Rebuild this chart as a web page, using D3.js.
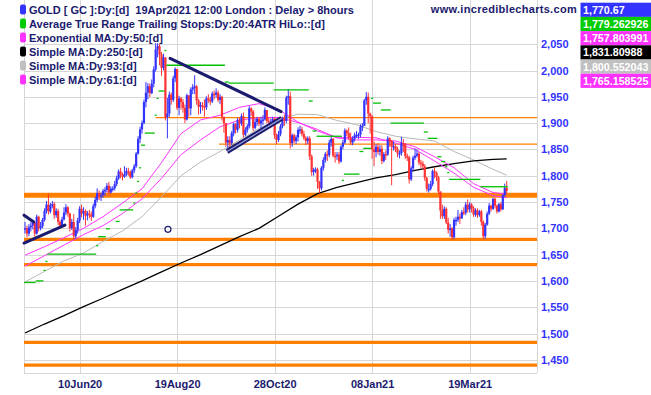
<!DOCTYPE html>
<html>
<head>
<meta charset="utf-8">
<script src="https://cdn.jsdelivr.net/npm/d3@7"></script>
<style>
  body { margin: 0; background: #fff; }
  svg { display: block; }
  text { font-family: "Liberation Sans", Arial, sans-serif; font-weight: bold; }
</style>
</head>
<body>
<script>
// daily bars, 29Apr20 .. 19Apr21 (index = trading day)
const closes = [
  1700,1690,1702,1705,1710,1690,1722,1700,1704,1716,
  1733,1745,1732,1744,1746,1725,1733,1712,1705,1717,
  1730,1740,1728,1700,1712,1685,1697,1715,1737,1728,
  1733,1724,1728,1726,1722,1742,1754,1767,1761,1763,
  1771,1773,1781,1768,1775,1776,1784,1795,1808,1803,
  1798,1802,1809,1807,1797,1810,1818,1842,1870,1888,
  1900,1940,1958,1970,1957,1975,2002,2040,2046,2030,
  2005,2025,1911,1918,1954,1944,1985,2003,1929,1947,
  1940,1929,1907,1953,1928,1964,1968,1970,1943,1931,
  1934,1932,1930,1947,1945,1941,1956,1954,1958,1944,
  1950,1912,1900,1863,1868,1862,1881,1898,1887,1906,
  1899,1913,1878,1887,1894,1928,1922,1891,1902,1908,
  1899,1905,1907,1925,1904,1902,1902,1908,1877,1868,
  1879,1894,1909,1904,1948,1951,1862,1877,1866,1873,
  1887,1888,1879,1872,1866,1871,1837,1807,1811,1812,
  1788,1776,1815,1830,1841,1839,1863,1870,1838,1837,
  1840,1827,1855,1863,1886,1881,1872,1863,1870,1877,
  1878,1878,1893,1895,1943,1950,1918,1913,1850,1845,
  1855,1845,1851,1828,1841,1840,1871,1866,1855,1856,
  1850,1843,1843,1862,1860,1837,1835,1793,1814,1834,
  1838,1842,1825,1823,1818,1796,1775,1775,1784,1809,
  1806,1797,1770,1734,1723,1737,1711,1697,1700,1683,
  1716,1716,1722,1719,1731,1730,1745,1736,1745,1738,
  1726,1734,1725,1732,1712,1685,1707,1728,1743,1737,
  1756,1743,1732,1746,1736,1763,1777,1771
];
const highs = [
  1712,1705,1708,1712,1716,1712,1726,1724,1712,1720,
  1738,1752,1766,1748,1752,1750,1738,1737,1715,1722,
  1740,1746,1742,1730,1718,1727,1702,1720,1742,1745,
  1740,1736,1733,1735,1732,1747,1760,1776,1772,1768,
  1775,1778,1786,1788,1780,1780,1790,1800,1812,1815,
  1806,1818,1815,1815,1810,1813,1822,1845,1875,1893,
  1905,1945,1978,1976,1975,1983,2008,2052,2052,2050,
  2035,2032,2025,1948,1960,1958,1990,2006,2000,1952,
  1950,1946,1935,1956,1952,1968,1974,1991,1972,1946,
  1940,1940,1945,1951,1955,1950,1960,1962,1966,1962,
  1955,1952,1912,1900,1875,1875,1885,1901,1900,1910,
  1910,1918,1920,1892,1898,1932,1930,1925,1908,1912,
  1910,1912,1915,1930,1920,1910,1908,1912,1910,1880,
  1885,1898,1912,1916,1952,1965,1960,1880,1880,1877,
  1892,1895,1893,1885,1875,1875,1875,1840,1815,1816,
  1815,1790,1818,1835,1845,1848,1868,1875,1872,1845,
  1845,1845,1858,1868,1890,1888,1892,1882,1875,1882,
  1885,1882,1898,1900,1946,1959,1958,1920,1915,1865,
  1860,1862,1858,1858,1845,1848,1875,1873,1868,1865,
  1860,1855,1848,1874,1870,1862,1842,1838,1818,1838,
  1852,1850,1845,1830,1828,1822,1798,1785,1790,1812,
  1815,1808,1800,1770,1745,1742,1740,1720,1708,1702,
  1720,1722,1735,1728,1735,1740,1750,1755,1750,1748,
  1742,1738,1738,1735,1735,1715,1710,1732,1748,1745,
  1758,1758,1745,1748,1750,1765,1785,1790
];
const lows = [
  1690,1683,1685,1694,1698,1684,1688,1694,1696,1700,
  1713,1728,1726,1728,1738,1718,1720,1706,1700,1702,
  1715,1725,1722,1694,1697,1677,1680,1690,1710,1721,
  1716,1705,1715,1719,1714,1720,1738,1750,1754,1752,
  1758,1762,1768,1762,1766,1770,1772,1780,1792,1795,
  1791,1796,1799,1800,1794,1795,1805,1815,1840,1862,
  1880,1898,1930,1945,1949,1955,1968,1998,2025,2010,
  1990,2000,1905,1871,1912,1935,1940,1978,1925,1915,
  1926,1920,1900,1905,1912,1915,1955,1955,1935,1916,
  1918,1924,1912,1925,1938,1934,1938,1945,1948,1940,
  1936,1905,1882,1855,1852,1855,1858,1875,1880,1882,
  1890,1895,1873,1875,1882,1890,1914,1885,1888,1895,
  1894,1890,1896,1905,1900,1895,1892,1895,1870,1860,
  1864,1875,1890,1895,1900,1935,1852,1855,1862,1860,
  1865,1880,1875,1868,1858,1860,1830,1800,1800,1805,
  1775,1767,1772,1810,1825,1828,1835,1855,1835,1825,
  1830,1822,1825,1850,1860,1875,1868,1858,1858,1865,
  1872,1870,1873,1885,1895,1935,1900,1880,1832,1818,
  1835,1840,1838,1822,1825,1830,1838,1855,1782,1848,
  1845,1835,1833,1838,1845,1832,1828,1785,1790,1810,
  1830,1835,1820,1815,1812,1790,1770,1768,1772,1780,
  1795,1790,1765,1718,1718,1718,1708,1690,1684,1678,
  1680,1705,1712,1708,1718,1725,1725,1730,1730,1730,
  1722,1722,1720,1722,1705,1679,1680,1705,1725,1732,
  1735,1738,1728,1730,1732,1735,1760,1765
];

const tickIdx = [28, 78, 128, 178, 228];
const tickLabels = ["10Jun20", "19Aug20", "28Oct20", "08Jan21", "19Mar21"];
const yTicks = [1450, 1500, 1550, 1600, 1650, 1700, 1750, 1800, 1850, 1900, 1950, 2000, 2050];

// moving averages at these bar indices
const maIdx  = [0, 10, 20, 30, 40, 50, 60, 70, 80, 90, 100, 110, 120, 130, 140, 150, 160, 170, 180, 190, 200, 210, 220, 230, 240, 247];
const sma250 = [1501,1518,1534,1551,1567,1584,1600,1617,1634,1650,1667,1684,1700,1723,1746,1766,1778,1787,1796,1802,1810,1817,1823,1828,1831,1832];
const sma93  = [1598,1618,1638,1653,1675,1695,1722,1760,1800,1826,1846,1868,1890,1907,1917,1916,1905,1897,1884,1875,1870,1866,1846,1830,1812,1801];
const ema50  = [1649,1665,1682,1700,1722,1748,1775,1825,1880,1906,1915,1930,1937,1926,1902,1885,1872,1873,1872,1862,1850,1828,1805,1778,1762,1758];
const sma61  = [1628,1648,1668,1688,1705,1728,1756,1795,1840,1868,1893,1906,1910,1911,1901,1888,1872,1868,1868,1866,1855,1836,1815,1785,1768,1765];

// ATR trailing stop steps: from bar, to bar, level
const atrFrom = [0,6,10,11,12,37,38,42,47,49,56,57,58,59,60,62,67,68,69,72,73,103,105,128,146,148,150,163,164,172,174,178,179,183,188,205,207,212,214,216,217,218,234];
const atrTo   = [5,9,10,11,36,37,41,43,48,55,56,57,58,59,61,66,67,68,71,72,102,104,127,145,147,149,162,163,171,173,177,178,182,187,204,206,211,213,215,216,217,233,247];
const atrVal  = [1597,1600,1620,1637,1651,1667,1684,1699,1713,1735,1748,1767,1789,1815,1858,1881,1915,1947,1961,2038,2010,1978,1976,1963,1942,1885,1875,1791,1803,1846,1852,1947,1938,1925,1900,1883,1871,1836,1827,1817,1806,1793,1779];

// horizontal support / resistance levels
const thickLevels = [1763, 1679, 1631, 1483, 1440];
const thinLevels = [1910.5, 1860];
const thinFrom = [67, 99.5];

// drawn trend lines: [bar0, price0, bar1, price1]
const trendLines = [[74.4, 2023, 131.3, 1922], [-0.5, 1672, 20.5, 1706], [-0.5, 1725, 4.5, 1712]];
const channelLine = [103.6, 1846, 131.6, 1909];
const marker = [73.3, 1698];

const legendNames = ["GOLD [ GC ]:Dy:[d]  19Apr2021 12:00 London : Delay > 8hours",
  "Average True Range Trailing Stops:Dy:20:4ATR HiLo::[d]", "Exponential MA:Dy:50:[d]",
  "Simple MA:Dy:250:[d]", "Simple MA:Dy:93:[d]", "Simple MA:Dy:61:[d]"];
const legendValues = ["1,770.67", "1,779.262926", "1,757.803991", "1,831.80988", "1,800.552043", "1,765.158525"];
const legendColors = ["#3333ff", "#00cc00", "#ff33ff", "#000000", "#c0c0c0", "#ff33ff"];

const W = 651, H = 395;
const left = 24, right = 537, bottom = 373;
const navy = "#1a1a6e";

const svg = d3.select("body").append("svg").attr("width", W).attr("height", H);

const x = d3.scaleLinear().domain([0, 247]).range([25, 506.7]);
const y = d3.scaleLinear().domain([1450, 2050]).range([359.8, 44.2]);

// grid
const grid = svg.append("g").attr("stroke", "#d6d6d6").attr("stroke-width", 1);
grid.selectAll(".hg").data(yTicks).enter().append("line")
  .attr("x1", left).attr("x2", right)
  .attr("y1", d => Math.round(y(d)) + 0.5).attr("y2", d => Math.round(y(d)) + 0.5);
grid.selectAll(".vg").data(tickIdx).enter().append("line")
  .attr("x1", d => Math.round(x(d)) + 0.5).attr("x2", d => Math.round(x(d)) + 0.5)
  .attr("y1", 0).attr("y2", bottom);
grid.append("line").attr("x1", left + 0.5).attr("x2", left + 0.5).attr("y1", 0).attr("y2", bottom);
grid.append("line").attr("x1", right + 0.5).attr("x2", right + 0.5).attr("y1", 0).attr("y2", bottom);
grid.append("line").attr("x1", left).attr("x2", right).attr("y1", bottom + 0.5).attr("y2", bottom + 0.5);

// orange levels
svg.selectAll(".lvl").data(thickLevels).enter().append("line")
  .attr("x1", left).attr("x2", right)
  .attr("y1", d => y(d)).attr("y2", d => y(d))
  .attr("stroke", "#ff8000").attr("stroke-width", (d, i) => i === 0 ? 5 : 3.2);
svg.selectAll(".tlvl").data(thinLevels).enter().append("line")
  .attr("x1", (d, i) => x(thinFrom[i])).attr("x2", right)
  .attr("y1", d => y(d)).attr("y2", d => y(d))
  .attr("stroke", "#ff8000").attr("stroke-width", 1.3);

// moving averages
const maLine = vals => d3.line().x((d, i) => x(maIdx[i])).y(d => y(d))(vals);
svg.append("path").attr("d", maLine(sma93)).attr("fill", "none").attr("stroke", "#b8b8b8").attr("stroke-width", 1);
svg.append("path").attr("d", maLine(sma250)).attr("fill", "none").attr("stroke", "#000").attr("stroke-width", 1.3);
svg.append("path").attr("d", maLine(sma61)).attr("fill", "none").attr("stroke", "#ff33ff").attr("stroke-width", 1);
svg.append("path").attr("d", maLine(ema50)).attr("fill", "none").attr("stroke", "#ff33ff").attr("stroke-width", 1);

// price bars
const bars = svg.append("g");
closes.forEach((c, i) => {
  const prev = i > 0 ? closes[i - 1] : c;
  const col = c >= prev ? "#3333ff" : "#ff3333";
  bars.append("rect")
    .attr("x", x(i) - 0.5).attr("width", 1)
    .attr("y", y(highs[i])).attr("height", Math.max(1, y(lows[i]) - y(highs[i])))
    .attr("fill", col);
  const top = Math.max(prev, c), bot = Math.min(prev, c);
  bars.append("rect")
    .attr("x", x(i) - 1.1).attr("width", 2.2)
    .attr("y", y(top)).attr("height", Math.max(1.5, y(bot) - y(top)))
    .attr("fill", col);
});

// ATR trailing stops
svg.selectAll(".atr").data(atrVal).enter().append("line")
  .attr("x1", (d, i) => x(atrFrom[i]) - 1).attr("x2", (d, i) => x(atrTo[i]) + 1)
  .attr("y1", d => y(d)).attr("y2", d => y(d))
  .attr("stroke", "#00c000").attr("stroke-width", 1.3);

// trend lines
svg.selectAll(".trend").data(trendLines).enter().append("line")
  .attr("x1", d => x(d[0])).attr("y1", d => y(d[1]))
  .attr("x2", d => x(d[2])).attr("y2", d => y(d[3]))
  .attr("stroke", navy).attr("stroke-width", 3).attr("stroke-linecap", "round");
svg.append("line")
  .attr("x1", x(channelLine[0])).attr("y1", y(channelLine[1]))
  .attr("x2", x(channelLine[2])).attr("y2", y(channelLine[3]))
  .attr("stroke", navy).attr("stroke-width", 5);
svg.append("line")
  .attr("x1", x(channelLine[0])).attr("y1", y(channelLine[1]))
  .attr("x2", x(channelLine[2])).attr("y2", y(channelLine[3]))
  .attr("stroke", "#9aa0d8").attr("stroke-width", 1.2);
svg.append("circle").attr("cx", x(marker[0])).attr("cy", y(marker[1])).attr("r", 3)
  .attr("fill", "#fff").attr("stroke", navy).attr("stroke-width", 1.2);

// axes
const yAxis = svg.append("g").attr("transform", `translate(${right},0)`)
  .call(d3.axisRight(y).tickValues(yTicks).tickFormat(d3.format(",")).tickSize(0).tickPadding(4));
yAxis.select(".domain").remove();
yAxis.selectAll("text").attr("fill", "#3333ff").style("font-size", "11px");

const xAxis = svg.append("g").attr("transform", `translate(0,${bottom})`)
  .call(d3.axisBottom(x).tickValues(tickIdx).tickFormat((d, i) => tickLabels[i]).tickSize(0).tickPadding(7));
xAxis.select(".domain").remove();
xAxis.selectAll("text").attr("fill", navy).style("font-size", "11px");

// legend
const leg = svg.append("g");
legendNames.forEach((name, i) => {
  const cy = 9.5 + i * 14;
  leg.append("rect").attr("x", 20).attr("y", cy - 5).attr("width", 6).attr("height", 10)
    .attr("rx", 2).attr("fill", legendColors[i]);
  leg.append("text").attr("x", 29).attr("y", cy + 4).attr("fill", navy)
    .style("font-size", "11px").style("white-space", "pre").text(name);
  leg.append("rect").attr("x", 580.5).attr("y", 2.7 + i * 14.2).attr("width", W - 580.5).attr("height", 14.2)
    .attr("fill", legendColors[i]);
  leg.append("text").attr("x", 583).attr("y", 2.7 + i * 14.2 + 11).attr("fill", "#fff")
    .style("font-size", "10.7px").text(legendValues[i]);
});
svg.append("text").attr("x", 577).attr("y", 13).attr("text-anchor", "end").attr("fill", navy)
  .style("font-size", "11px").style("letter-spacing", "0.3px").text("www.incrediblecharts.com");
</script>
</body>
</html>
